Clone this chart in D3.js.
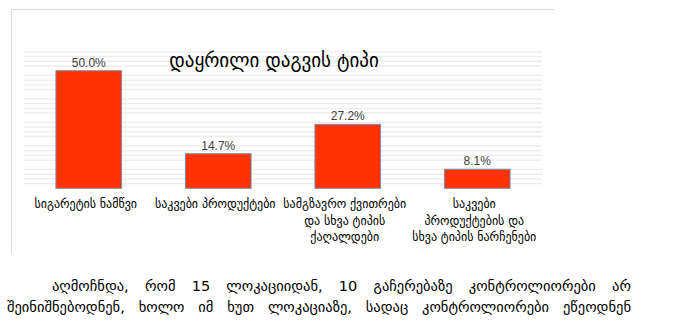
<!DOCTYPE html>
<html>
<head>
<meta charset="utf-8">
<script src="https://cdn.jsdelivr.net/npm/d3@7"></script>
<style>
  html, body { margin: 0; padding: 0; background: #fff; }
  svg { display: block; }
</style>
</head>
<body>
<script>
// ---- data ----
const title = "დაყრილი დაგვის ტიპი";
const categories = [
  ["სიგარეტის ნამწვი"],
  ["საკვები პროდუქტები"],
  ["სამგზავრო ქვითრები", "და სხვა ტიპის", "ქაღალდები"],
  ["საკვები", "პროდუქტების და", "სხვა ტიპის ნარჩენები"]
];
const values = [50.0, 14.7, 27.2, 8.1];
const valueLabels = ["50.0%", "14.7%", "27.2%", "8.1%"];
const gridMax = 60;
const gridStep = 2;
const paragraph = [
  "აღმოჩნდა, რომ 15 ლოკაციიდან, 10 გაჩერებაზე კონტროლიორები არ",
  "შეინიშნებოდნენ, ხოლო იმ ხუთ ლოკაციაზე, სადაც კონტროლიორები ეწეოდნენ"
];

// ---- drawing ----
const W = 679, H = 331;
const svg = d3.select("body").append("svg").attr("width", W).attr("height", H);
svg.append("rect").attr("width", W).attr("height", H).attr("fill", "#fff");

// frame (top + left)
svg.append("line").attr("x1", 11).attr("x2", 554).attr("y1", 9.5).attr("y2", 9.5)
  .attr("stroke", "#dcdcdc").attr("stroke-width", 1);
svg.append("line").attr("x1", 11.5).attr("x2", 11.5).attr("y1", 9).attr("y2", 254)
  .attr("stroke", "#dcdcdc").attr("stroke-width", 1);

const x = d3.scaleBand().domain(d3.range(categories.length)).range([24, 542]).paddingInner(0.493).paddingOuter(0.2465);
const y = d3.scaleLinear().domain([0, gridMax]).range([188.3, 47.2]);

// minor gridlines (every 2%, majors hidden)
const gridVals = d3.range(gridStep, gridMax, gridStep).filter(v => v % 10 !== 0);
svg.append("g").selectAll("line").data(gridVals).join("line")
  .attr("x1", 24).attr("x2", 542)
  .attr("y1", d => y(d)).attr("y2", d => y(d))
  .attr("stroke", "#ececec").attr("stroke-width", 1.4);

// title
svg.append("text").attr("x", 274).attr("y", 67)
  .attr("text-anchor", "middle")
  .attr("font-family", "DejaVu Sans, sans-serif")
  .attr("font-size", 19).attr("fill", "#000")
  .text(title);

// bars
svg.append("g").selectAll("rect").data(values).join("rect")
  .attr("x", (d, i) => x(i)).attr("width", x.bandwidth())
  .attr("y", d => y(d)).attr("height", d => y(0) - y(d))
  .attr("fill", "#ff3300").attr("stroke", "#7d8db0").attr("stroke-width", 1);

// value labels
svg.append("g").selectAll("text").data(values).join("text")
  .attr("x", (d, i) => x(i) + x.bandwidth() / 2)
  .attr("y", d => y(d) - 4)
  .attr("text-anchor", "middle")
  .attr("font-family", "Liberation Sans, Arial, sans-serif")
  .attr("font-size", 12).attr("fill", "#404040")
  .text((d, i) => valueLabels[i]);

// category labels
const catG = svg.append("g").selectAll("text").data(categories).join("text")
  .attr("text-anchor", "middle")
  .attr("font-family", "DejaVu Sans, sans-serif")
  .attr("font-size", 12).attr("fill", "#000");
catG.selectAll("tspan").data((d, i) => d.map(s => ({ s, i }))).join("tspan")
  .attr("x", d => x(d.i) + x.bandwidth() / 2 - 3)
  .attr("y", (d, j) => 208 + j * 16.5)
  .text(d => d.s);

// paragraph, justified
const pLeft = [52, 7], pRight = 631, pBase = [291, 312];
paragraph.forEach((line, li) => {
  const words = line.split(" ");
  const g = svg.append("g");
  const ts = g.selectAll("text").data(words).join("text")
    .attr("font-family", "DejaVu Sans, sans-serif")
    .attr("font-size", 14.5).attr("fill", "#000")
    .attr("y", pBase[li])
    .text(d => d);
  const widths = [];
  ts.each(function () { widths.push(this.getComputedTextLength()); });
  const total = d3.sum(widths);
  const gap = (pRight - pLeft[li] - total) / (words.length - 1);
  let cx = pLeft[li];
  ts.attr("x", (d, i) => { const v = cx; cx += widths[i] + gap; return v; });
});
</script>
</body>
</html>
